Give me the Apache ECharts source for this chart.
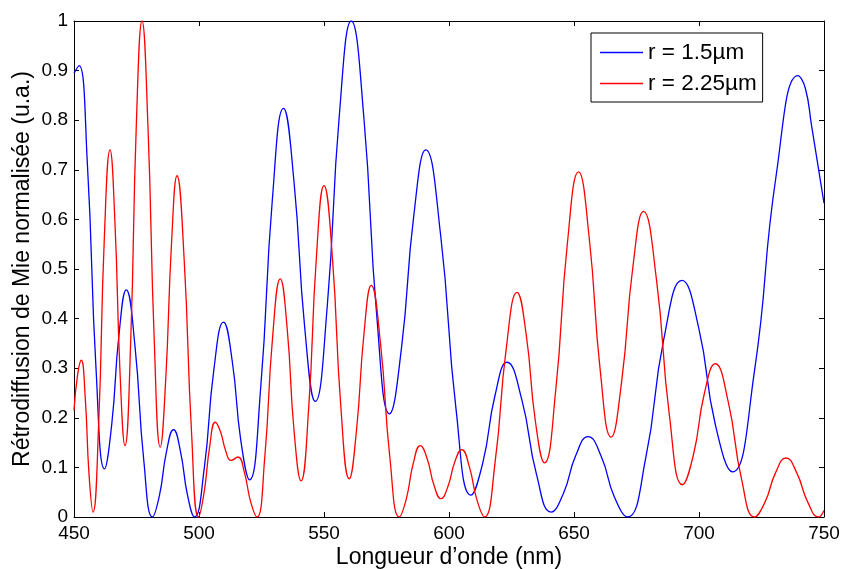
<!DOCTYPE html>
<html><head><meta charset="utf-8">
<script src="https://cdn.jsdelivr.net/npm/echarts@6/dist/echarts.min.js"></script>
<style>html,body{margin:0;padding:0;background:#fff}#c{width:842px;height:569px}</style>
</head><body><div id="c"></div>
<script>
const seriesNames = ['r = 1.5\u00b5m', 'r = 2.25\u00b5m'];
const xTicks = [450, 500, 550, 600, 650, 700, 750];
const yTicks = [0, 0.1, 0.2, 0.3, 0.4, 0.5, 0.6, 0.7, 0.8, 0.9, 1];
// [wavelength (nm), normalized value]
const blueCurve = [
  [450,0.895],[452,0.91],[455.4,0.707],[458.8,0.300],[462.2,0.097],[465.1,0.187],[468.0,0.368],[470.9,0.458],
  [474.4,0.344],[477.9,0.115],[481.4,0.0],[484.2,0.044],[487.0,0.132],[489.8,0.176],[492.6,0.132],[495.4,0.044],
  [498.2,0.0],[502.1,0.098],[505.9,0.295],[509.8,0.393],[513.3,0.314],[516.7,0.155],[520.2,0.075],[524.7,0.262],
  [529.3,0.637],[533.8,0.824],[538.0,0.676],[542.3,0.381],[546.5,0.233],[551.3,0.425],[556.1,0.808],[560.9,1.0],
  [566.0,0.802],[571.1,0.406],[576.2,0.208],[581.0,0.341],[585.9,0.607],[590.7,0.740],[596.7,0.566],[602.8,0.218],
  [608.8,0.044],[613.6,0.111],[618.4,0.245],[623.2,0.312],[629.1,0.237],[635.0,0.086],[640.9,0.010],[645.8,0.048],
  [650.7,0.124],[655.6,0.162],[660.9,0.122],[666.1,0.041],[671.4,0.0],[678.7,0.119],[685.9,0.358],[693.2,0.477],
  [699.9,0.381],[706.5,0.187],[713.4,0.091],[722.1,0.291],[730.9,0.690],[739.6,0.890],[742.5,0.865],[745,0.79],
  [750,0.633]
];
const redCurve = [
  [450,0.215],[451.4,0.285],[452.9,0.316],[454.5,0.240],[456.0,0.087],[457.6,0.010],[459.9,0.193],[462.1,0.558],
  [464.4,0.740],[466.4,0.591],[468.4,0.293],[470.4,0.144],[472.7,0.358],[474.9,0.786],[477.2,1.0],[479.6,0.785],
  [482.1,0.356],[484.5,0.141],[486.7,0.278],[489.0,0.551],[491.2,0.688],[494.1,0.516],[497.0,0.172],[499.8,0.0],
  [502.0,0.048],[504.3,0.143],[506.5,0.191],[508.6,0.172],[510.7,0.133],[512.8,0.114],[515.6,0.121],[518.1,0.091],
  [520.7,0.030],[523.2,0.0],[526.3,0.120],[529.4,0.360],[532.5,0.480],[535.3,0.378],[538.0,0.175],[540.8,0.073],
  [543.9,0.222],[546.9,0.519],[550.0,0.668],[553.4,0.520],[556.7,0.225],[560.1,0.077],[563.0,0.175],[566.0,0.370],
  [568.9,0.467],[572.6,0.350],[576.4,0.117],[580.1,0.0],[582.9,0.036],[585.7,0.108],[588.5,0.144],[591.3,0.117],
  [594.0,0.064],[596.8,0.037],[599.6,0.062],[602.3,0.111],[605.1,0.136],[608.1,0.102],[611.2,0.034],[614.2,0.0],
  [618.5,0.113],[622.9,0.340],[627.2,0.453],[630.9,0.367],[634.5,0.195],[638.2,0.109],[642.7,0.256],[647.3,0.549],
  [651.8,0.696],[656.1,0.562],[660.5,0.295],[664.8,0.161],[669.1,0.275],[673.5,0.502],[677.8,0.616],[683.0,0.478],
  [688.2,0.203],[693.4,0.065],[697.8,0.126],[702.1,0.248],[706.5,0.309],[711.7,0.232],[717.0,0.077],[722.2,0.0],
  [726.4,0.030],[730.6,0.089],[734.8,0.119],[739.1,0.089],[743.5,0.030],[747.8,0.0],[750,0.013]
];

const FONT = 'Arial, "Liberation Sans", Helvetica, sans-serif';
const chart = echarts.init(document.getElementById('c'), null, {renderer: 'canvas'});
const axisCommon = {
  min: 450, max: 750, interval: 50,
  axisLine: {show: true, onZero: false, lineStyle: {color: '#000', width: 1}},
  axisTick: {show: true, inside: true, length: 5, lineStyle: {color: '#000'}},
  splitLine: {show: false}
};
const yCommon = {
  min: 0, max: 1, interval: 0.1,
  axisLine: {show: true, onZero: false, lineStyle: {color: '#000', width: 1}},
  axisTick: {show: true, inside: true, length: 5, lineStyle: {color: '#000'}},
  splitLine: {show: false}
};
chart.setOption({
  animation: false,
  backgroundColor: '#fff',
  grid: {left: 74, right: 18, top: 21, bottom: 52, containLabel: false, outerBoundsMode: 'none'},
  legend: {
    data: seriesNames,
    orient: 'vertical',
    left: 591, top: 33,
    icon: 'rect',
    itemWidth: 43, itemHeight: 1.3, itemGap: 8,
    padding: [8, 6, 7, 9],
    borderColor: '#000', borderWidth: 1, backgroundColor: '#fff', borderRadius: 0,
    textStyle: {fontFamily: FONT, fontSize: 22.5, color: '#000'}
  },
  xAxis: [
    Object.assign({type: 'value', position: 'bottom', name: 'Longueur d\u2019onde (nm)', nameLocation: 'middle', nameGap: 29,
      nameMoveOverlap: false,
      nameTextStyle: {fontFamily: FONT, fontSize: 23, color: '#000'},
      axisLabel: {fontFamily: FONT, fontSize: 19, color: '#000', margin: 7,
        customValues: xTicks}}, axisCommon),
    Object.assign({type: 'value', position: 'top', axisLabel: {show: false}}, axisCommon)
  ],
  yAxis: [
    Object.assign({type: 'value', position: 'left', name: 'R\u00e9trodiffusion de Mie normalis\u00e9e (u.a.)', nameLocation: 'middle', nameGap: 40,
      nameMoveOverlap: false,
      nameTextStyle: {fontFamily: FONT, fontSize: 23, color: '#000'},
      axisLabel: {fontFamily: FONT, fontSize: 19, color: '#000', margin: 6, customValues: yTicks}}, yCommon),
    Object.assign({type: 'value', position: 'right', axisLabel: {show: false}}, yCommon)
  ],
  series: [
    {name: seriesNames[0], type: 'line', data: blueCurve, smooth: 0.5, symbol: 'none',
      lineStyle: {color: '#0000ff', width: 1.3}, itemStyle: {color: '#0000ff'}, clip: true},
    {name: seriesNames[1], type: 'line', data: redCurve, smooth: 0.5, symbol: 'none',
      lineStyle: {color: '#ff0000', width: 1.3}, itemStyle: {color: '#ff0000'}, clip: true}
  ]
});
</script></body></html>
